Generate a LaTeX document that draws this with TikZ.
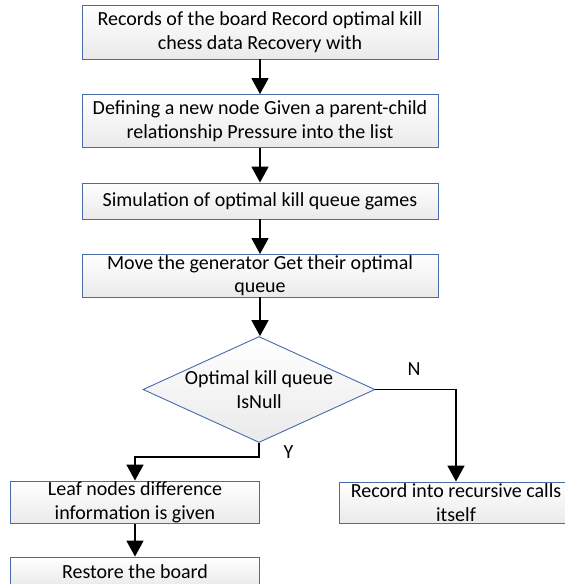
\documentclass[tikz,border=0pt]{standalone}
\usepackage{fontspec}
\setmainfont{Carlito}
\usetikzlibrary{shapes.geometric,arrows.meta}
\definecolor{boxblue}{RGB}{72,108,170}
\definecolor{boxgray}{RGB}{234,234,234}
\tikzset{
  flowbox/.style={draw=boxblue, line width=0.9pt, top color=white, bottom color=boxgray,
    rectangle, inner sep=0pt, align=center, font=\fontsize{20}{23.5}\selectfont},
  decision/.style={draw=boxblue, line width=0.9pt, top color=white, bottom color=boxgray,
    diamond, inner sep=0pt},
  flowarrow/.style={draw=black, line width=1.8pt, -{Triangle[width=17pt,length=16pt]}},
  edgelabel/.style={font=\fontsize{20}{22}\selectfont, inner sep=0pt},
}
\begin{document}
\begin{tikzpicture}[x=1pt,y=-1pt]
\clip (0,0) rectangle (565,584);
\fill[white] (0,0) rectangle (565,584);
\node[flowbox, minimum width=356pt, minimum height=54pt] (b1) at (260,32)
  {Records of the board Record optimal kill\\chess data Recovery with};
\node[flowbox, minimum width=356pt, minimum height=53pt] (b2) at (260,121)
  {Defining a new node Given a parent-child\\relationship Pressure into the list};
\node[flowbox, minimum width=356pt, minimum height=36pt] (b3) at (260,201)
  {Simulation of optimal kill queue games};
\node[flowbox, minimum width=356pt, minimum height=42.5pt] (b4) at (260,275.7)
  {Move the generator Get their optimal\\queue};
\node[decision, minimum width=232pt, minimum height=106pt] (dia) at (259,389.5) {};
\node[align=center, inner sep=0pt, font=\fontsize{20}{23.5}\selectfont] (diatext) at (dia.center)
  {Optimal kill queue\\IsNull};
\node[flowbox, minimum width=249pt, minimum height=42.5pt] (leaf) at (135,502.2)
  {Leaf nodes difference\\information is given};
\node[flowbox, minimum width=233pt, minimum height=41.5pt] (rec) at (456,502.7)
  {Record into recursive calls\\itself};
\node[flowbox, minimum width=249pt, minimum height=29pt] (restore) at (135,571.5)
  {Restore the board};
\node[edgelabel] (nlab) at (414,369.5) {N};
\node[edgelabel] (ylab) at (288.5,452.5) {Y};
\draw[flowarrow] (b1.south) -- (b2.north);
\draw[flowarrow] (b2.south) -- (b3.north);
\draw[flowarrow] (b3.south) -- (b4.north);
\draw[flowarrow] (b4.south) -- (b4.south |- dia.north);
\draw[flowarrow] (dia.south) -- ++(0,14.3) -| (leaf.north);
\draw[flowarrow] (dia.east) -| (rec.north);
\draw[flowarrow] (leaf.south) -- (restore.north);
\end{tikzpicture}
\end{document}
